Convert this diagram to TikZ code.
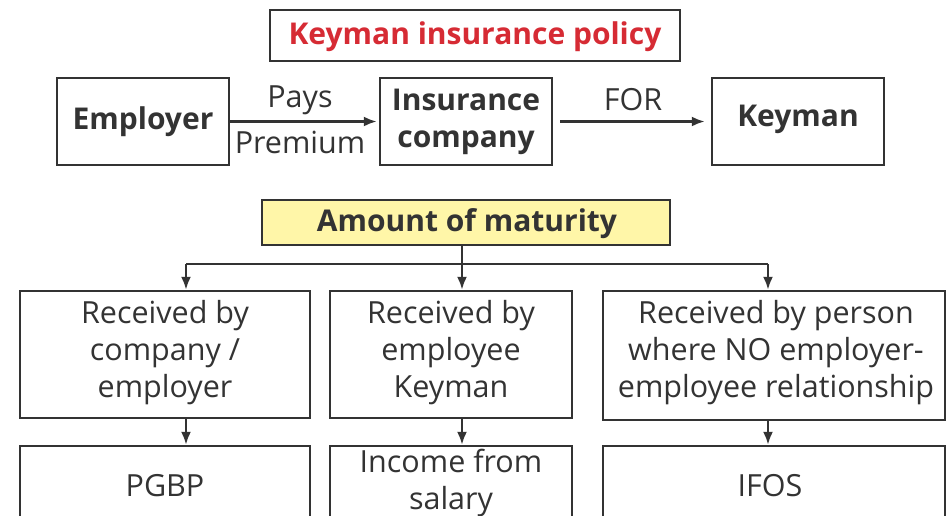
\documentclass[tikz,border=0pt]{standalone}
\usepackage{fontspec}
\setmainfont{Open Sans}
\usetikzlibrary{arrows.meta}
\definecolor{ink}{RGB}{51,51,51}
\definecolor{titlered}{RGB}{214,43,52}
\definecolor{paleyellow}{RGB}{255,246,168}
\tikzset{
  box/.style={draw=ink, line width=2.4pt, inner sep=0pt},
  lbl/.style={text=ink, font=\fontsize{30.5}{37}\selectfont, align=center, inner sep=0pt},
  blbl/.style={text=ink, font=\fontsize{30}{37}\selectfont\bfseries, align=center, inner sep=0pt},
  conn/.style={draw=ink, line width=2.4pt, -{Latex[length=13pt,width=10pt]}},
  plain/.style={draw=ink, line width=2.4pt},
}
\begin{document}
\begin{tikzpicture}[x=1pt,y=-1pt]
\useasboundingbox (0,0) rectangle (952,515);
\clip (0,0) rectangle (952,515);
% title
\node[box, minimum width=410pt, minimum height=51pt] (title) at (475,35.5) {};
\node[text=titlered, font=\fontsize{30}{37}\selectfont\bfseries, inner sep=0pt] (titletxt) at (475,37) {Keyman insurance policy};
% top row
\node[box, minimum width=172pt, minimum height=87pt] (employer) at (143,121.5) {};
\node[blbl] (employertxt) at (143,121.5) {Employer};
\node[box, minimum width=172pt, minimum height=87pt] (insco) at (466,121.5) {};
\node[blbl] (insctxt) at (466,122) {Insurance\\company};
\node[box, minimum width=172pt, minimum height=87pt] (keyman) at (798,121.5) {};
\node[blbl] (keymantxt) at (798,119) {Keyman};
\draw[conn] (employer.east) -- ([xshift=-2pt]insco.west);
\node[lbl] (pays) at (300,100) {Pays};
\node[lbl] (premium) at (300,142) {Premium};
\coordinate (forstart) at (560,121.5);
\draw[conn] (forstart) -- ([xshift=-6pt]keyman.west);
\node[lbl] (fortxt) at (633,100) {FOR};
% maturity
\node[box, fill=paleyellow, minimum width=408pt, minimum height=45pt] (amount) at (466,222.5) {};
\node[blbl] (amounttxt) at (467,224) {Amount of maturity};
\coordinate (split) at (462,264);
\coordinate (la) at (186,264);
\coordinate (lc) at (768,264);
% second row
\node[box, minimum width=290pt, minimum height=127pt] (rc) at (165,354.5) {};
\node[lbl] (rctxt) at (165,353) {Received by\\company /\\employer};
\node[box, minimum width=242pt, minimum height=127pt] (re) at (451,354.5) {};
\node[lbl] (retxt) at (451,353) {Received by\\employee\\Keyman};
\node[box, minimum width=342pt, minimum height=129pt] (rp) at (774,355.5) {};
\node[lbl] (rptxt) at (776,353) {Received by person\\where NO employer-\\employee relationship};
\draw[plain] (amount.south -| split) -- (split);
\draw[plain] (la) -- (lc);
\draw[conn] (la) -- (la |- rc.north);
\draw[conn] (split) -- (split |- re.north);
\draw[conn] (lc) -- (lc |- rp.north);
% third row
\node[box, minimum width=290pt, minimum height=127pt] (pgbp) at (165,509.5) {};
\node[lbl] (pgbptxt) at (165,486) {PGBP};
\node[box, minimum width=242pt, minimum height=127pt] (sal) at (451,509.5) {};
\node[lbl] (saltxt) at (451,483) {Income from\\salary};
\node[box, minimum width=342pt, minimum height=127pt] (ifos) at (774,509.5) {};
\node[lbl] (ifostxt) at (770,486) {IFOS};
\draw[conn] (la |- rc.south) -- (la |- pgbp.north);
\draw[conn] (split |- re.south) -- (split |- sal.north);
\draw[conn] (lc |- rp.south) -- (lc |- ifos.north);
\end{tikzpicture}
\end{document}
